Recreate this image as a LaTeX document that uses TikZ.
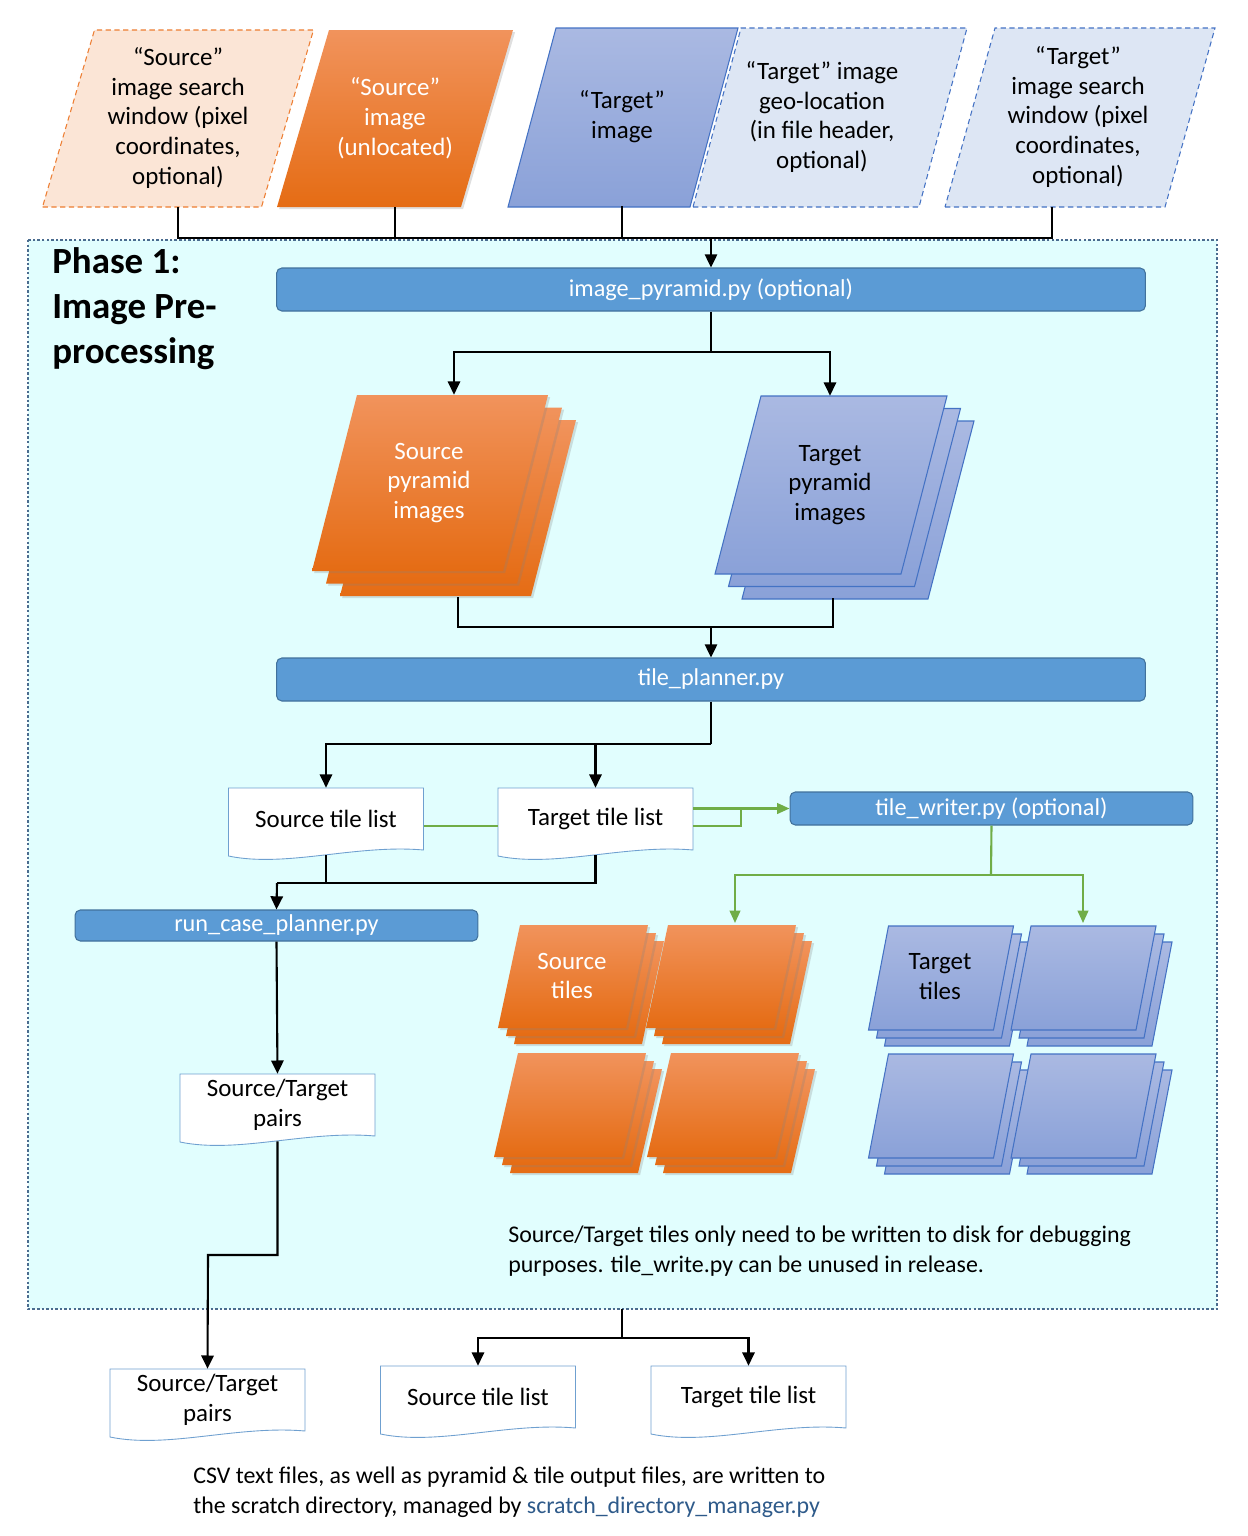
\documentclass[tikz,border=0pt]{standalone}
\usepackage{fontspec}
\setmainfont{Carlito}
\usepackage{tikz}
\usetikzlibrary{arrows.meta, shadows}

\definecolor{orTop}{HTML}{F1935C}
\definecolor{orBot}{HTML}{E56C14}
\definecolor{orEdge}{HTML}{ED7D31}
\definecolor{peach}{HTML}{FBE5D6}
\definecolor{blTop}{HTML}{AAB9E2}
\definecolor{blBot}{HTML}{8AA1D8}
\definecolor{blLine}{HTML}{4472C4}
\definecolor{paleblue}{HTML}{DDE6F4}
\definecolor{procblue}{HTML}{5B9BD5}
\definecolor{procline}{HTML}{41719C}
\definecolor{docline}{HTML}{6FA0D0}
\definecolor{leaf}{HTML}{70AD47}
\definecolor{phasefill}{HTML}{E1FEFE}
\definecolor{phaseline}{HTML}{4A6C8F}
\definecolor{linkblue}{HTML}{2E5A8A}

\tikzset{>={Triangle[width=7pt,length=7.5pt]}}
\tikzset{
  lbl/.style={font=\fontsize{14.2}{17}\selectfont, align=center, inner sep=0pt},
  small/.style={lbl, font=\fontsize{13.6}{17}\selectfont},
  tall/.style={lbl, minimum height=3.56cm},
  proc/.style={lbl, font=\fontsize{13.8}{17}\selectfont, rounded corners=3pt, fill=procblue, draw=procline, line width=0.6pt, text=white},
  doc/.style={lbl, minimum width=3.9cm, minimum height=1.24cm},
  docshape/.style={fill=white, draw=docline, line width=0.5pt},
  wire/.style={line width=1.2pt},
  arr/.style={wire, ->},
  grn/.style={draw=leaf, line width=1.2pt},
  grnarr/.style={grn, -{Triangle[width=6pt,length=7pt]}},
  orslab/.style={top color=orTop, bottom color=orBot, drop shadow={opacity=0.25, shadow xshift=1.2pt, shadow yshift=-1.2pt}},
  blslab/.style={top color=blTop, bottom color=blBot, draw=blLine, line width=0.6pt},
  winbox/.style={fill=peach, draw=orEdge, line width=0.6pt, dash pattern=on 3pt off 2pt},
  geobox/.style={fill=paleblue, draw=blLine, line width=0.6pt, dash pattern=on 3pt off 2pt},
  phasebox/.style={fill=phasefill, draw=phaseline, line width=1.5pt, dash pattern=on 1.4pt off 1.2pt}
}

% slanted sheet: style, centre x, centre y, width, height, skew
\newcommand{\slab}[6]{%
  \path[#1] (#2-#4/2-#6/2,#3+#5/2) -- (#2+#4/2-#6/2,#3+#5/2)
    -- (#2+#4/2+#6/2,#3-#5/2) -- (#2-#4/2+#6/2,#3-#5/2) -- cycle;}
% three sheets stacked: ... plus step dx, dy
\newcommand{\pile}[8]{%
  \foreach \k in {2,1,0}{\slab{#1}{#2+\k*#7}{#3+\k*#8}{#4}{#5}{#6}}}
% document with wavy foot: name, centre x, top y, text
\newcommand{\filedoc}[4]{%
  \path[docshape] (#2-97.5,#3) -- (#2+97.5,#3) -- (#2+97.5,#3+62)
    .. controls (#2+30,#3+56) and (#2-40,#3+80) .. (#2-97.5,#3+68) -- cycle;
  \node[doc] (#1) at (#2,#3+31) {#4};}

\begin{document}
\begin{tikzpicture}[x=0.02cm, y=-0.02cm]
\useasboundingbox (0,0) rectangle (1248,1536);

% phase 1 area
\path[phasebox] (28,240) rectangle (1217,1309);
\node[font=\bfseries\fontsize{21}{25.6}\selectfont, align=left, anchor=west, inner sep=0pt] (heading) at (52,309) {Phase 1:\\Image Pre-\\processing};

% inputs
\slab{winbox}{178}{118.5}{219}{177}{52}
\slab{orslab}{395}{118.5}{184}{177}{52}
\slab{geobox}{830}{117.5}{226}{179}{48}
\slab{blslab}{623}{117.5}{182}{179}{48}
\slab{winbox, draw=blLine, fill=paleblue}{1080}{117.5}{220}{179}{50}
\node[tall] (srcwin) at (178,118) {“Source”\\image search\\window (pixel\\coordinates,\\optional)};
\node[tall, text=white] (srcimg) at (395,118) {“Source”\\image\\(unlocated)};
\node[tall] (tgtimg) at (622,117) {“Target”\\image};
\node[tall] (geoloc) at (822,117) {“Target” image\\geo-location\\(in file header,\\optional)};
\node[tall] (tgtwin) at (1078,117) {“Target”\\image search\\window (pixel\\coordinates,\\optional)};

% processes
\node[proc, minimum width=17.38cm, minimum height=0.86cm] (pyramid) at (711,289.5) {image\_pyramid.py (optional)};
\node[proc, minimum width=17.38cm, minimum height=0.86cm] (planner) at (711,679.5) {tile\_planner.py};
\node[proc, minimum width=8.06cm, minimum height=0.66cm] (writer) at (991.5,808.5) {tile\_writer.py (optional)};
\node[proc, minimum width=8.06cm, minimum height=0.62cm] (runcase) at (276.5,925.5) {run\_case\_planner.py};

% pyramids
\pile{orslab}{430}{483}{191}{176}{45}{14}{12.5}
\pile{blslab}{831}{485}{186}{178}{46}{13.5}{12.5}
\node[lbl, text=white, minimum height=3.52cm] (srcpyr) at (429,483) {Source\\pyramid\\images};
\node[lbl, minimum height=3.56cm] (tgtpyr) at (830,485) {Target\\pyramid\\images};

% tiles
\pile{orslab}{573}{976.5}{128}{103}{22}{8}{8}
\pile{orslab}{721}{976.5}{128}{103}{22}{8}{8}
\pile{orslab}{570}{1105}{128}{104}{24}{8}{8}
\pile{orslab}{723}{1105}{128}{104}{24}{8}{8}
\pile{blslab}{941}{978}{125}{104}{20}{8}{8}
\pile{blslab}{1083.5}{978}{125}{104}{20}{8}{8}
\pile{blslab}{941}{1106}{125}{104}{20}{8}{8}
\pile{blslab}{1083.5}{1106}{125}{104}{20}{8}{8}
\node[lbl, text=white] (srctiles) at (572,976) {Source\\tiles};
\node[lbl] (tgttiles) at (940,977) {Target\\tiles};

% csv files
\filedoc{srclist}{326}{788}{Source tile list}
\filedoc{tgtlist}{595.5}{788}{Target tile list}
\filedoc{pairs}{277.5}{1074}{Source/Target\\pairs}
\filedoc{outpairs}{207.5}{1369}{Source/Target\\pairs}
\filedoc{outsrc}{478}{1366}{Source tile list}
\filedoc{outtgt}{748.5}{1366}{Target tile list}

\node[small, align=left, anchor=west] (note) at (508,1251.5) {Source/Target tiles only need to be written to disk for debugging\\purposes. tile\_write.py can be unused in release.};
\node[small, align=left, anchor=west] (caption) at (193,1492.5) {CSV text files, as well as pyramid \& tile output files, are written to\\the scratch directory, managed by \textcolor{linkblue}{scratch\_directory\_manager.py}};

% connectors
\coordinate (bus) at (711,238);
\coordinate (twfoot) at (1052,207);
\draw[wire] (srcwin.south) |- (bus) -| (twfoot);
\draw[wire] (srcimg.south) -- (srcimg.south |- bus);
\draw[wire] (tgtimg.south) -- (tgtimg.south |- bus);
\draw[arr] (bus) -- (pyramid.north);

\coordinate (fork1) at (711,352);
\draw[wire] (pyramid.south) -- (fork1);
\draw[arr] (fork1) -| ([xshift=0.5cm]srcpyr.north);
\draw[arr] (fork1) -| (tgtpyr.north);

\coordinate (join1) at (711,627);
\draw[wire] ([xshift=0.58cm,yshift=-0.52cm]srcpyr.south) |- (join1) -| ([xshift=0.06cm,yshift=-0.48cm]tgtpyr.south);
\draw[arr] (join1) -- (planner.north);

\coordinate (fork2) at (711,744);
\draw[wire] (planner.south) -- (fork2);
\draw[arr] (fork2) -| (srclist.north);
\draw[arr] (fork2) -| (tgtlist.north);

\coordinate (loop) at (741,809);
\draw[grn] ([yshift=-0.14cm]srclist.east) -- ([yshift=-0.14cm]tgtlist.west);
\draw[grn] ([yshift=-0.14cm]tgtlist.east) -| (loop);
\draw[grnarr] (tgtlist.east |- writer.west) -- (writer.west);

\coordinate (fork3) at (991,875);
\coordinate (srctop) at (735,923);
\coordinate (tgttop) at (1083,923);
\draw[grn] (writer.south) -- (fork3);
\draw[grnarr] (fork3) -| (srctop);
\draw[grnarr] (fork3) -| (tgttop);

\coordinate (join3) at (277,883);
\draw[wire] ([yshift=-0.1cm]srclist.south) -- (srclist.south |- join3);
\draw[wire] ([yshift=-0.1cm]tgtlist.south) |- (join3);
\draw[arr] (join3) -- (runcase.north);
\draw[arr] (runcase.south) -- (pairs.north);

\coordinate (jog) at (208,1255);
\draw[arr] ([yshift=-0.1cm]pairs.south) |- (jog) -- (outpairs.north);

\coordinate (phfoot) at (622,1309);
\coordinate (fork4) at (622,1338);
\draw[wire] (phfoot) -- (fork4);
\draw[arr] (fork4) -| (outsrc.north);
\draw[arr] (fork4) -| (outtgt.north);
\end{tikzpicture}
\end{document}
